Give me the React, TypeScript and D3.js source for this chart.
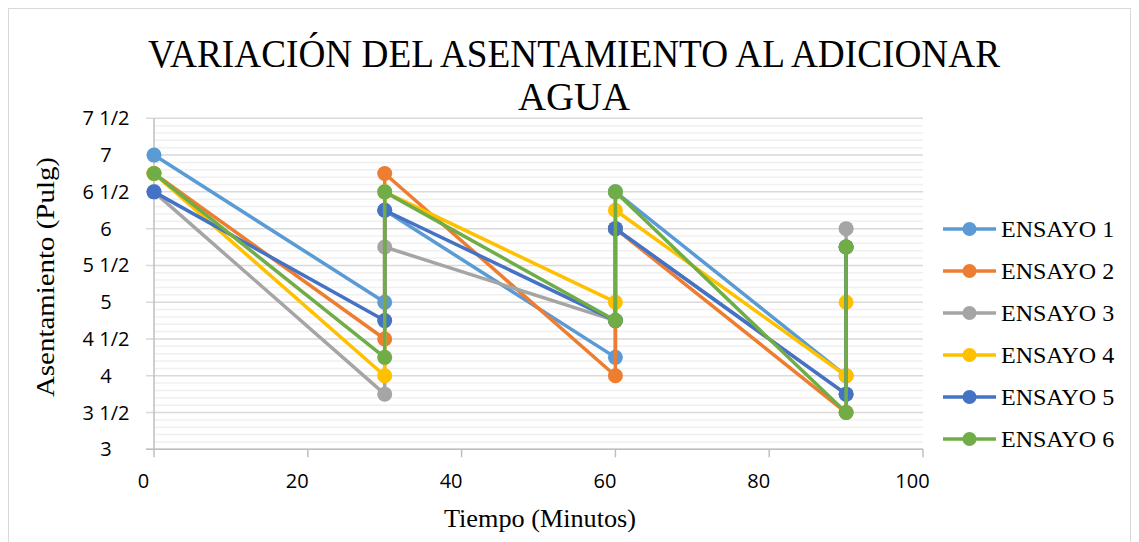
import React from "react";
import * as d3 from "d3";

const xValues = [0, 30, 30, 60, 60, 90, 90];
const seriesNames = ["ENSAYO 1", "ENSAYO 2", "ENSAYO 3", "ENSAYO 4", "ENSAYO 5", "ENSAYO 6"];
const ensayo1 = [7, 5, 6.25, 4.25, 6.5, 4, 5.75];
const ensayo2 = [6.75, 4.5, 6.75, 4, 6, 3.5, 5.75];
const ensayo3 = [6.5, 3.75, 5.75, 4.75, 6, 3.75, 6];
const ensayo4 = [6.75, 4, 6.5, 5, 6.25, 4, 5];
const ensayo5 = [6.5, 4.75, 6.25, 4.75, 6, 3.75, 5.75];
const ensayo6 = [6.75, 4.25, 6.5, 4.75, 6.5, 3.5, 5.75];
const seriesColors = ["#5B9BD5", "#ED7D31", "#A5A5A5", "#FFC000", "#4472C4", "#70AD47"];
const xTicks = [0, 20, 40, 60, 80, 100];
const yTicks = [3, 3.5, 4, 4.5, 5, 5.5, 6, 6.5, 7, 7.5];
const titleLines = ["VARIACIÓN DEL ASENTAMIENTO AL ADICIONAR", "AGUA"];
const xTitle = "Tiempo (Minutos)";
const yTitle = "Asentamiento  (Pulg)";

const allSeries = [ensayo1, ensayo2, ensayo3, ensayo4, ensayo5, ensayo6];

function frac(v: number) {
  const i = Math.floor(v);
  return v - i > 0 ? `${i} 1/2` : `${i}`;
}

export default function App() {
  const W = 1139, H = 542;
  const left = 154, right = 923, top = 118.3, bottom = 449.3;
  const x = d3.scaleLinear().domain([0, 100]).range([left, right]);
  const y = d3.scaleLinear().domain([3, 7.5]).range([bottom, top]);
  const minor = d3.range(3, 7.5001, 0.1).filter((v) => Math.abs(v * 2 - Math.round(v * 2)) > 1e-6);
  const line = d3
    .line<[number, number]>()
    .x((d) => x(d[0]))
    .y((d) => y(d[1]));
  const serif = "'Liberation Serif', 'Times New Roman', serif";
  const sans = "'Open Sans', sans-serif";
  return (
    <svg width={W} height={H} style={{ position: "absolute", left: 0, top: 0, background: "#fff" }}>
      <rect x={8.5} y={8.5} width={1122} height={560} fill="#fff" stroke="#d9d9d9" />
      {titleLines.map((t, i) => (
        <text
          key={i}
          x={574}
          y={67 + i * 43}
          textAnchor="middle"
          fontFamily={serif}
          fontSize={39}
          fill="#000"
          textLength={i === 0 ? 852 : 112}
          lengthAdjust="spacingAndGlyphs"
        >
          {t}
        </text>
      ))}
      {minor.map((v, i) => (
        <line key={"m" + i} x1={left} x2={right} y1={y(v)} y2={y(v)} stroke="#f0f0f0" strokeWidth={1.5} />
      ))}
      {yTicks.map((v) => (
        <line key={"g" + v} x1={left - 8} x2={right} y1={y(v)} y2={y(v)} stroke="#d9d9d9" strokeWidth={1.5} />
      ))}
      <line x1={left} x2={left} y1={top} y2={bottom} stroke="#bfbfbf" strokeWidth={1.5} />
      <line x1={left - 8} x2={right} y1={bottom} y2={bottom} stroke="#bfbfbf" strokeWidth={1.5} />
      {xTicks.map((v) => (
        <g key={"x" + v}>
          <line x1={x(v)} x2={x(v)} y1={bottom} y2={bottom + 8} stroke="#bfbfbf" strokeWidth={1.5} />
          <text x={x(v) - 10.5} y={488} textAnchor="middle" fontFamily={sans} fontSize={20} fill="#000">
            {v}
          </text>
        </g>
      ))}
      {yTicks.map((v) => (
        <text key={"yl" + v} x={106} y={y(v) + 7} textAnchor="middle" fontFamily={sans} fontSize={20} fill="#000">
          {frac(v)}
        </text>
      ))}
      <text x={540} y={527} textAnchor="middle" fontFamily={serif} fontSize={25} fill="#000" textLength={192} lengthAdjust="spacingAndGlyphs">
        {xTitle}
      </text>
      <text
        transform={`translate(54,277) rotate(-90)`}
        textAnchor="middle"
        fontFamily={serif}
        fontSize={25}
        fill="#000"
        textLength={240}
        lengthAdjust="spacingAndGlyphs"
      >
        {yTitle}
      </text>
      {allSeries.map((s, si) => {
        const pts = s.map((v, i) => [xValues[i], v] as [number, number]);
        return (
          <g key={"s" + si}>
            <path d={line(pts) || ""} fill="none" stroke={seriesColors[si]} strokeWidth={3.5} strokeLinejoin="round" />
            {pts.map((p, i) => (
              <circle key={i} cx={x(p[0])} cy={y(p[1])} r={7.5} fill={seriesColors[si]} />
            ))}
          </g>
        );
      })}
      {seriesNames.map((n, i) => {
        const ly = 229 + i * 42;
        return (
          <g key={"lg" + i}>
            <line x1={943} x2={996} y1={ly} y2={ly} stroke={seriesColors[i]} strokeWidth={3.5} />
            <circle cx={969.5} cy={ly} r={7} fill={seriesColors[i]} />
            <text x={1001} y={ly + 7.5} fontFamily={serif} fontSize={24} fill="#000">
              {n}
            </text>
          </g>
        );
      })}
    </svg>
  );
}
